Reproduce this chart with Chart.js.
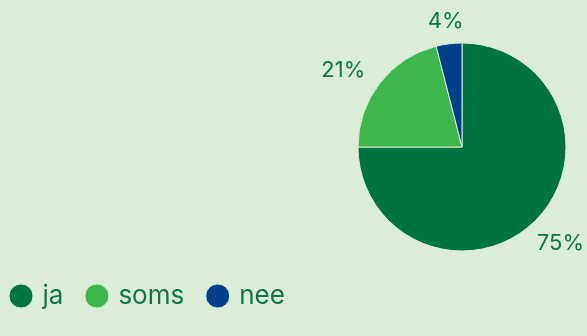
<!DOCTYPE html>
<html>
<head>
<meta charset="utf-8">
<script src="https://cdn.jsdelivr.net/npm/chart.js@4.4.1/dist/chart.umd.min.js"></script>
<style>
  html, body { margin: 0; padding: 0; background: #dbedd6; }
  #wrap { width: 587px; height: 336px; }
</style>
</head>
<body>
<div id="wrap"><canvas id="pie"></canvas></div>
<script>
const labels = ['ja', 'soms', 'nee'];
const values = [75, 21, 4];
const colors = ['#00743f', '#3db64b', '#003f8a'];

const textColor = '#0e7646';

// pie sits in a square on the right, legend stays along the bottom
const pieBox = {
  id: 'pieBox',
  afterLayout(chart) {
    const a = chart.chartArea;
    const size = 209;
    a.top = 42.5;
    a.bottom = a.top + size;
    a.right = chart.width - 20.5;
    a.left = a.right - size;
    a.width = size;
    a.height = size;
  }
};

const pctLabels = {
  id: 'pctLabels',
  afterDatasetsDraw(chart) {
    const ctx = chart.ctx;
    const meta = chart.getDatasetMeta(0);
    ctx.save();
    ctx.font = '400 22px Inter';
    ctx.fillStyle = textColor;
    ctx.textBaseline = 'middle';
    meta.data.forEach((arc, i) => {
      const mid = (arc.startAngle + arc.endAngle) / 2;
      const r = arc.outerRadius + 26;
      const c = Math.cos(mid), s = Math.sin(mid);
      const x = arc.x + c * r;
      const y = arc.y + s * r + (s > 0 ? 4 : 3);
      const txt = values[i] + '%';
      const w = ctx.measureText(txt).width;
      let left;
      if (c > 0.3) left = x;
      else if (c < -0.3) left = x - w + 6;
      else left = x - w / 2;
      left = Math.min(left, chart.width - 3 - w);
      ctx.textAlign = 'left';
      ctx.fillText(txt, left, y);
    });
    ctx.restore();
  }
};

new Chart(document.getElementById('pie'), {
  type: 'pie',
  data: {
    labels: labels,
    datasets: [{
      data: values,
      backgroundColor: colors,
      borderColor: '#dbedd6',
      borderWidth: 1
    }]
  },
  options: {
    responsive: true,
    maintainAspectRatio: false,
    animation: false,
    layout: { padding: { left: -12.5, bottom: 17 } },
    plugins: {
      legend: {
        position: 'bottom',
        align: 'start',
        labels: {
          usePointStyle: true,
          pointStyle: 'circle',
          boxWidth: 17,
          boxHeight: 17,
          padding: 25,
          color: textColor,
          font: { family: 'Inter', size: 26, weight: '400' }
        }
      },
      tooltip: { enabled: false }
    }
  },
  plugins: [pieBox, pctLabels]
});
</script>
</body>
</html>
